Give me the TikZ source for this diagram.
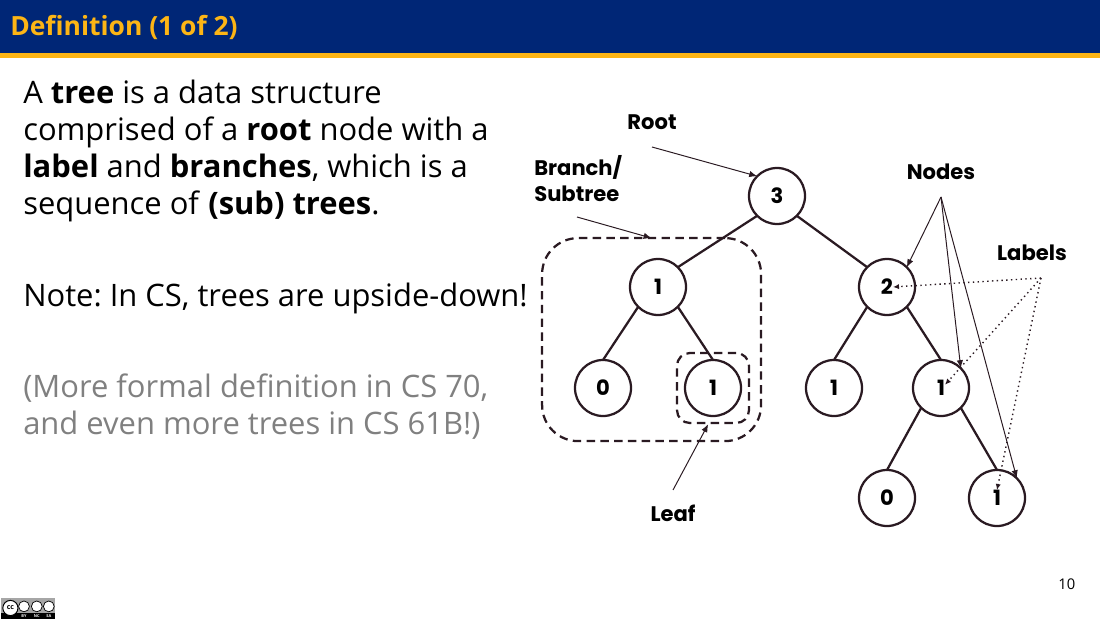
\documentclass[tikz,border=0pt]{standalone}
\usepackage{fontspec}
\setmainfont{Open Sans}
\newfontfamily\calloutfont{Poppins}
\usetikzlibrary{arrows.meta,calc,positioning}
\definecolor{ink}{HTML}{2A1A22}
\definecolor{muted}{HTML}{808080}
\definecolor{headerblue}{HTML}{002676}
\definecolor{headergold}{HTML}{FDB515}
\begin{document}
\begin{tikzpicture}[
  x=1cm,
  y=1cm,
  >={Latex[length=2mm,width=1.6mm]},
  title/.style={font=\bfseries\fontsize{18.8}{23}\selectfont, text=headergold, inner sep=0pt},
  body/.style={font=\fontsize{22}{26.3}\selectfont\frenchspacing, text=black, align=left, inner sep=0pt},
  treenode/.style={circle, draw=ink, fill=white, line width=1.6pt, minimum size=1.4cm,
                   inner sep=0pt, outer sep=0pt,
                   font=\calloutfont\bfseries\fontsize{15}{18}\selectfont},
  edge/.style={line width=1.6pt, color=ink},
  region/.style={draw=ink, line width=1.6pt, dash pattern=on 6pt off 3.8pt,
                 inner sep=0pt, outer sep=0pt},
  callout/.style={font=\calloutfont\bfseries\fontsize{15}{18.5}\selectfont, align=left, inner sep=0pt},
  pointer/.style={->, line width=.7pt, color=ink},
  labelptr/.style={-{Latex[length=1.5mm,width=1.3mm]}, line width=1pt, color=ink,
                   dash pattern=on 1pt off 2.4pt},
]

\useasboundingbox (0,0) rectangle (27.5,-15.475);

% Header band
\fill[headerblue] (0,0) rectangle (27.5,-1.325);
\fill[headergold] (0,-1.325) rectangle (27.5,-1.45);
\node[title, anchor=west] (heading) at (0.25,-0.69) {Definition (1 of 2)};

% Left column
\node[body, anchor=north west] (defn) at (0.575,-1.99) {A \textbf{tree} is a data structure\\
  comprised of a \textbf{root} node with a\\
  \textbf{label} and \textbf{branches}, which is a\\
  sequence of \textbf{(sub) trees}.};
\node[body, anchor=west] (note) at (0.575,-7.45) {Note: In CS, trees are upside-down!};
\node[body, anchor=north west, text=muted] (formal) at (0.575,-9.33) {(More formal definition in CS 70,\\
  and even more trees in CS 61B!)};

% Dashed groups go under the tree
\node[region, rounded corners=.9cm, minimum width=5.475cm, minimum height=5.075cm] (branch) at (16.29,-8.49) {};
\node[region, rounded corners=.32cm, minimum width=1.8cm, minimum height=1.75cm] (leaf) at (17.825,-9.7) {};

\node[treenode] (root) at (19.425,-4.9) {3};
\node[treenode] (left) at (16.45,-7.175) {1};
\node[treenode] (right) at (22.175,-7.175) {2};
\node[treenode] (leftzero) at (15.075,-9.7) {0};
\node[treenode] (leftone) at (17.825,-9.7) {1};
\node[treenode] (midone) at (20.85,-9.7) {1};
\node[treenode] (inner) at (23.525,-9.7) {1};
\node[treenode] (lowzero) at (22.175,-12.45) {0};
\node[treenode] (lowone) at (24.925,-12.45) {1};

\draw[edge] (root.225) -- (left.45);
\draw[edge] (root.315) -- (right.135);
\draw[edge] (left.225) -- (leftzero.north);
\draw[edge] (left.315) -- (leftone.north);
\draw[edge] (right.225) -- (midone.north);
\draw[edge] (right.315) -- (inner.north);
\draw[edge] (inner.225) -- (lowzero.north);
\draw[edge] (inner.315) -- (lowone.north);

% Callouts
\node[callout] (rootlabel) at (16.3,-3.05) {Root};
\node[callout, anchor=west] (branchlabel) at (13.35,-4.47) {Branch/\\Subtree};
\node[callout] (nodeslabel) at (23.525,-4.3) {Nodes};
\node[callout] (labelslabel) at (25.8,-6.33) {Labels};
\node[callout] (leaflabel) at (16.825,-12.83) {Leaf};

\coordinate (rootfrom) at (16.3,-3.675);
\coordinate (branchfrom) at (14.425,-5.425);
\coordinate (leaffrom) at (16.825,-12.25);
\coordinate (nodesfrom) at (23.525,-4.925);
\coordinate (labelsfrom) at (26.025,-6.95);

\draw[pointer] (rootfrom) -- (root.135);
\draw[pointer] (branchfrom) -- (branch.north);
\draw[pointer] (leaffrom) -- ($(leaf.south)+(-.12,-.03)$);
\draw[pointer] (nodesfrom) -- (right.45);
\draw[pointer] (nodesfrom) -- (inner.45);
\draw[pointer] (nodesfrom) -- (lowone.45);
\draw[labelptr] (labelsfrom) -- ($(right)+(.15,0)$);
\draw[labelptr] (labelsfrom) -- ($(inner)+(.1,.08)$);
\draw[labelptr] (labelsfrom) -- ($(lowone)+(0,.2)$);

% Page number and licence badge
\node[font=\fontsize{10.5}{12}\selectfont, inner sep=0pt] (pagenum) at (26.67,-14.6) {10};
\fill[muted!70!white] (0.03,-14.96) rectangle (1.37,-15.475);
\fill[black] (0.03,-15.33) rectangle (1.37,-15.475);
\node[circle, draw=black, fill=white, line width=.7pt, minimum size=.38cm, inner sep=0pt,
      font=\bfseries\fontsize{5}{5}\selectfont] (badgecc) at (0.26,-15.2) {cc};
\foreach \bx/\bname/\btext in {0.6/by/BY,0.92/nc/NC,1.22/sa/SA}{
  \node[circle, draw=black, fill=white, line width=.5pt, minimum size=.27cm, inner sep=0pt] (badge\bname) at (\bx,-15.16) {};
  \node[font=\bfseries\fontsize{2.8}{3}\selectfont, text=white, inner sep=0pt] (badgetext\bname) at (\bx,-15.41) {\btext};
}

\end{tikzpicture}
\end{document}
